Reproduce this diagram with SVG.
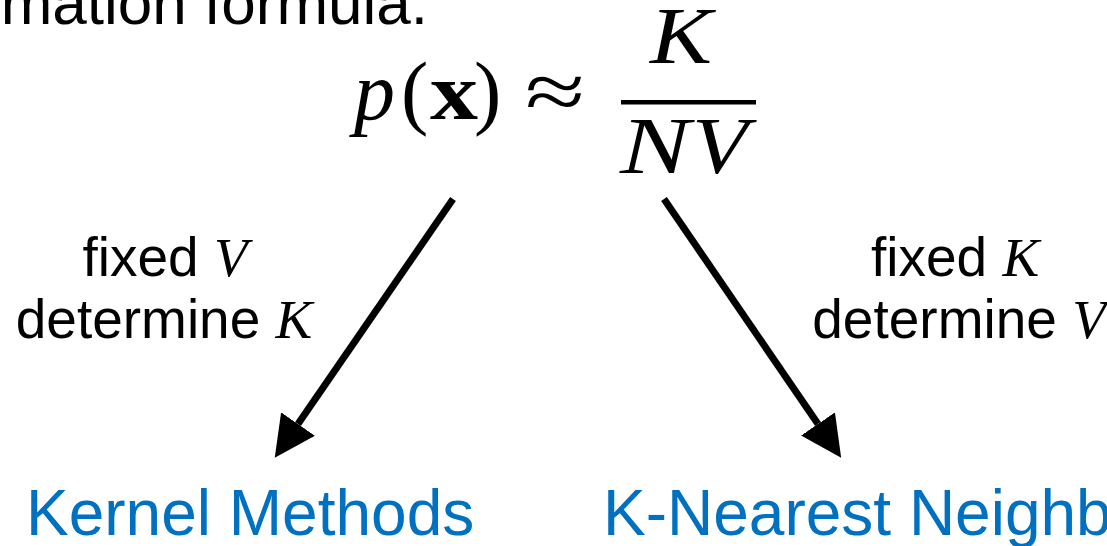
<svg xmlns="http://www.w3.org/2000/svg" width="1107" height="546" viewBox="0 0 1107 546">
  <style>
    .sans { font-family: "Liberation Sans", Arial, sans-serif; fill: #000; }
    .math { font-family: "Liberation Serif", "Times New Roman", serif; font-style: italic; fill: #000; }
    .bold { font-family: "Liberation Serif", "Times New Roman", serif; font-weight: bold; fill: #000; }
    .up { font-family: "Liberation Serif", "Times New Roman", serif; fill: #000; }
    .label { font-size: 55px; }
    .method { font-family: "Liberation Sans", Arial, sans-serif; font-size: 64px; fill: #0070C0; }
    .conn { stroke: #000; stroke-width: 7; fill: none; stroke-linecap: butt; }
  </style>
  <defs>
    <marker id="head" viewBox="0 0 41 41" refX="0" refY="20.5" markerWidth="41" markerHeight="41" markerUnits="userSpaceOnUse" orient="auto">
      <path d="M0,0 L41,20.5 L0,41 Z" fill="#000"/>
    </marker>
  </defs>
  <rect width="1107" height="546" fill="#fff"/>

  <g id="title">
    <text class="sans" x="428" y="24" font-size="62" text-anchor="end">mation formula.</text>
  </g>

  <g id="formula">
    <text class="math" x="354" y="119" font-size="82">p</text>
    <text class="up" x="401" y="119" font-size="82">(</text>
    <text class="bold" x="430" y="119" font-size="80" textLength="48" lengthAdjust="spacingAndGlyphs">x</text>
    <text class="up" x="474" y="119" font-size="82">)</text>
    <text class="up" x="525" y="119" font-size="82" textLength="60" lengthAdjust="spacingAndGlyphs">≈</text>
    <text class="math" x="650" y="63" font-size="80" textLength="62" lengthAdjust="spacingAndGlyphs">K</text>
    <rect x="621" y="100" width="135" height="4.5" fill="#000"/>
    <text class="math" x="620" y="173" font-size="80" textLength="70" lengthAdjust="spacingAndGlyphs">N</text>
    <text class="math" x="692" y="173" font-size="80" textLength="56" lengthAdjust="spacingAndGlyphs">V</text>
  </g>

  <g id="label-left">
    <text class="sans label" x="165" y="276" text-anchor="middle">fixed <tspan class="math">V</tspan></text>
    <text class="sans label" x="164" y="338" text-anchor="middle">determine <tspan class="math">K</tspan></text>
  </g>

  <g id="label-right">
    <text class="sans label" x="955" y="276" text-anchor="middle">fixed <tspan class="math">K</tspan></text>
    <text class="sans label" x="959" y="338" text-anchor="middle">determine <tspan class="math">V</tspan></text>
  </g>

  <g id="connectors">
    <line class="conn" x1="453" y1="199" x2="298" y2="424" marker-end="url(#head)"/>
    <line class="conn" x1="664" y1="199" x2="818" y2="424" marker-end="url(#head)"/>
  </g>

  <g id="kernel-methods">
    <text class="method" x="26" y="535">Kernel Methods</text>
  </g>

  <g id="knn">
    <text class="method" x="603" y="535">K-Nearest Neighbors</text>
  </g>
</svg>
